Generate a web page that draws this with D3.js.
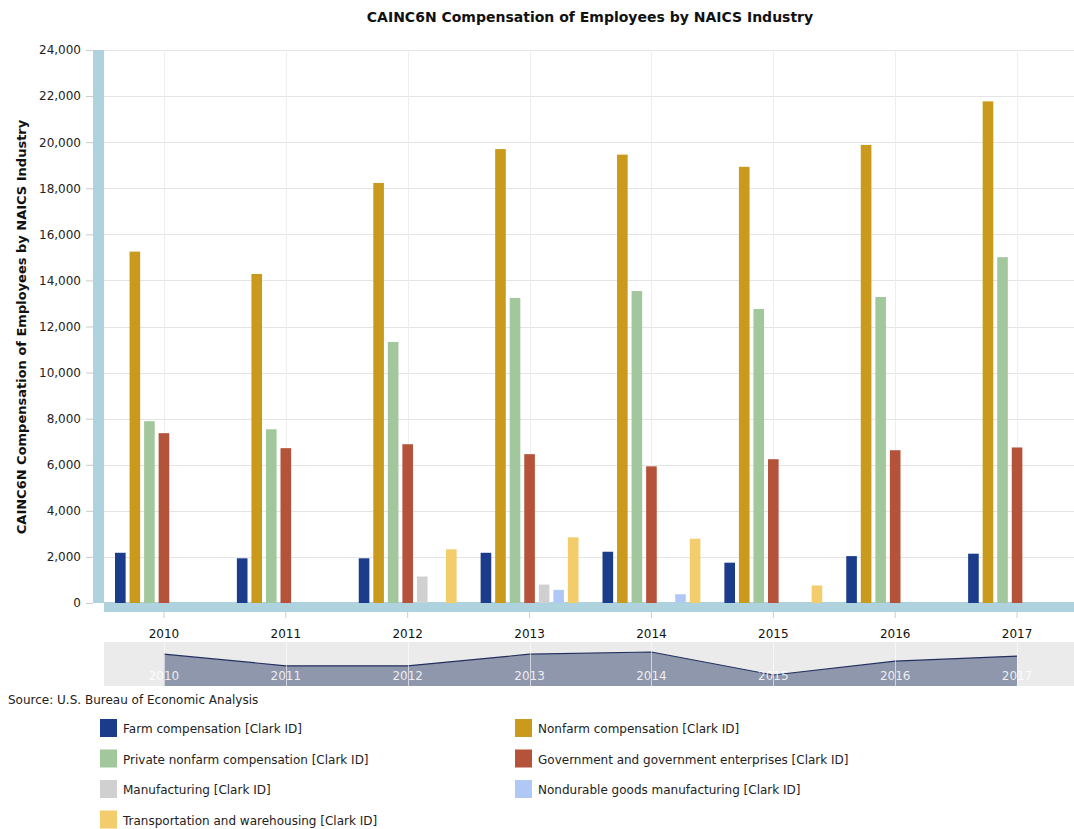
<!DOCTYPE html>
<html>
<head>
<meta charset="utf-8">
<script src="https://cdn.jsdelivr.net/npm/d3@7"></script>
<style>
  html, body { margin: 0; padding: 0; background: #ffffff; }
  svg { display: block; font-family: "DejaVu Sans", Verdana, sans-serif; }
</style>
</head>
<body>
<svg id="chart" width="1074" height="829"></svg>
<script>
// ---------- DATA ----------
const years = ["2010", "2011", "2012", "2013", "2014", "2015", "2016", "2017"];
const seriesNames = [
  "Farm compensation [Clark ID]",
  "Nonfarm compensation [Clark ID]",
  "Private nonfarm compensation [Clark ID]",
  "Government and government enterprises [Clark ID]",
  "Manufacturing [Clark ID]",
  "Nondurable goods manufacturing [Clark ID]",
  "Transportation and warehousing [Clark ID]"
];
const farm          = [2180, 1940, 1940, 2180, 2225, 1750, 2035, 2140];
const nonfarm       = [15250, 14280, 18230, 19700, 19460, 18930, 19880, 21770];
const privateNonfarm= [7890, 7540, 11330, 13240, 13540, 12760, 13280, 15010];
const government    = [7370, 6720, 6890, 6460, 5930, 6240, 6630, 6750];
const manufacturing = [null, null, 1150, 800, null, null, null, null];
const nondurable    = [null, null, null, 570, 380, null, null, null];
const transport     = [null, null, 2330, 2850, 2790, 760, null, null];
const yTicks = [0, 2000, 4000, 6000, 8000, 10000, 12000, 14000, 16000, 18000, 20000, 22000, 24000];
const colors = ["#1b3c8b", "#c99a1c", "#a3c79c", "#b4523a", "#d0d0d0", "#afc8f5", "#f3cd6b"];
const titleText = "CAINC6N Compensation of Employees by NAICS Industry";
const yAxisTitle = "CAINC6N Compensation of Employees by NAICS Industry";
const sourceText = "Source: U.S. Bureau of Economic Analysis";

const seriesValues = [farm, nonfarm, privateNonfarm, government, manufacturing, nondurable, transport];

// ---------- LAYOUT ----------
const svg = d3.select("#chart");
const plotLeft = 104, plotRight = 1074, plotTop = 50, plotBottom = 603;
const wallColor = "#aed3de";

const x0 = d3.scaleBand().domain(years).range([103, 1078]).padding(0);
const bw = x0.bandwidth();
const gw = bw * 0.803;
const x1 = d3.scaleBand().domain(d3.range(seriesNames.length))
  .range([(bw - gw) / 2, (bw + gw) / 2]).paddingInner(0.27).paddingOuter(0);
const y = d3.scaleLinear().domain([0, 24000]).range([plotBottom, plotTop]);

// title
svg.append("text").attr("x", 590).attr("y", 22).attr("text-anchor", "middle")
  .attr("font-weight", "bold").attr("font-size", 14).attr("fill", "#111")
  .text(titleText);

// gridlines
svg.append("g").selectAll("line").data(yTicks).join("line")
  .attr("x1", plotLeft).attr("x2", plotRight)
  .attr("y1", d => Math.round(y(d)) + 0.5).attr("y2", d => Math.round(y(d)) + 0.5)
  .attr("stroke", "#e4e4e4").attr("stroke-width", 1);
svg.append("g").selectAll("line").data(years).join("line")
  .attr("x1", d => Math.round(x0(d) + bw / 2) + 0.5).attr("x2", d => Math.round(x0(d) + bw / 2) + 0.5)
  .attr("y1", plotTop).attr("y2", plotBottom)
  .attr("stroke", "#eeeeee").attr("stroke-width", 1);

// 3D wall and floor
svg.append("rect").attr("x", 93).attr("y", plotTop).attr("width", 11).attr("height", plotBottom - plotTop)
  .attr("fill", wallColor);
svg.append("rect").attr("x", plotLeft).attr("y", plotBottom - 1).attr("width", plotRight - plotLeft).attr("height", 10)
  .attr("fill", wallColor);

// y axis
const yAxis = d3.axisLeft(y).tickValues(yTicks).tickSize(7).tickPadding(5)
  .tickFormat(d3.format(","));
const gy = svg.append("g").attr("transform", "translate(93,0)").call(yAxis);
gy.select(".domain").remove();
gy.selectAll(".tick line").attr("stroke", "#cccccc");
gy.selectAll(".tick text").attr("font-size", 12).attr("fill", "#222")
  .attr("font-family", "DejaVu Sans, Verdana, sans-serif");

// y axis title
svg.append("text").attr("transform", "translate(26,327) rotate(-90)")
  .attr("text-anchor", "middle").attr("font-weight", "bold").attr("font-size", 13).attr("fill", "#111")
  .text(yAxisTitle);

// x axis
const xAxis = d3.axisBottom(x0).tickSize(6).tickPadding(11);
const gx = svg.append("g").attr("transform", "translate(0,612)").call(xAxis);
gx.select(".domain").remove();
gx.selectAll(".tick line").attr("stroke", "#cccccc");
gx.selectAll(".tick text").attr("font-size", 12).attr("fill", "#111")
  .attr("font-family", "DejaVu Sans, Verdana, sans-serif");

// bars
const groups = svg.append("g").selectAll("g").data(years).join("g")
  .attr("transform", d => `translate(${x0(d)},0)`);
groups.selectAll("rect")
  .data((yr, i) => seriesValues.map((arr, s) => ({ s, v: arr[i] })).filter(d => d.v != null))
  .join("rect")
  .attr("x", d => x1(d.s))
  .attr("width", x1.bandwidth())
  .attr("y", d => y(d.v))
  .attr("height", d => y(0) - y(d.v))
  .attr("fill", d => colors[d.s]);

// navigator
const navTop = 642, navBottom = 686;
svg.append("rect").attr("x", plotLeft).attr("y", navTop).attr("width", plotRight - plotLeft)
  .attr("height", navBottom - navTop).attr("fill", "#ebebeb");
const ext = d3.extent(farm);
const yn = d3.scaleLinear().domain(ext).range([675, 652]);
const xc = d => x0(d) + bw / 2;
const navData = years.map((yr, i) => ({ yr, v: farm[i] }));
svg.append("path").datum(navData)
  .attr("d", d3.area().x(d => xc(d.yr)).y0(navBottom).y1(d => yn(d.v)))
  .attr("fill", "#8f97ac");
svg.append("path").datum(navData)
  .attr("d", d3.line().x(d => xc(d.yr)).y(d => yn(d.v)))
  .attr("fill", "none").attr("stroke", "#23305e").attr("stroke-width", 1.2);
svg.append("g").selectAll("line").data(years).join("line")
  .attr("x1", d => Math.round(xc(d)) + 0.5).attr("x2", d => Math.round(xc(d)) + 0.5)
  .attr("y1", navTop).attr("y2", navBottom)
  .attr("stroke", "#ffffff").attr("stroke-opacity", 0.6);
svg.append("g").selectAll("text").data(years).join("text")
  .attr("x", d => xc(d)).attr("y", 680).attr("text-anchor", "middle")
  .attr("font-size", 12).attr("fill", "#ffffff").attr("fill-opacity", 0.85)
  .text(d => d);

// source
svg.append("text").attr("x", 8).attr("y", 704).attr("font-size", 12).attr("fill", "#222")
  .text(sourceText);

// legend
const legend = svg.append("g").selectAll("g").data(seriesNames).join("g")
  .attr("transform", (d, i) => `translate(${i % 2 === 0 ? 100 : 515},${719 + Math.floor(i / 2) * 30.5})`);
legend.append("rect").attr("width", 17).attr("height", 18).attr("fill", (d, i) => colors[i]);
legend.append("text").attr("x", 23).attr("y", 14).attr("font-size", 12).attr("fill", "#222")
  .text(d => d);
</script>
</body>
</html>
